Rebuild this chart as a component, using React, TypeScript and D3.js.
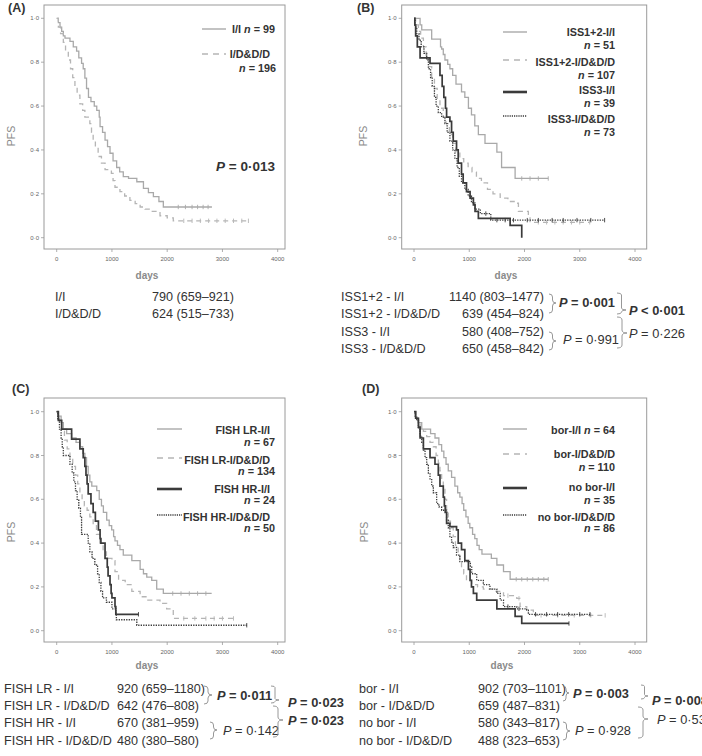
import React from 'react';
import * as d3 from 'd3';

// ---------- axis data ----------
const xTicks = [0, 1000, 2000, 3000, 4000];
const yTicks = [0, 0.2, 0.4, 0.6, 0.8, 1.0];
const yTickLabels = ['0·0', '0·2', '0·4', '0·6', '0·8', '1·0'];

// ---------- Panel A ----------
const aII: number[][] = [[0,1],[30,0.98],[60,0.96],[90,0.94],[120,0.92],[150,0.91],[240,0.895],[300,0.87],[360,0.85],[400,0.82],[450,0.795],[480,0.77],[510,0.727],[540,0.68],[575,0.64],[620,0.62],[680,0.6],[725,0.58],[770,0.55],[785,0.506],[830,0.48],[875,0.445],[920,0.415],[965,0.385],[1020,0.35],[1085,0.32],[1140,0.3],[1205,0.278],[1300,0.27],[1450,0.255],[1570,0.225],[1660,0.205],[1750,0.187],[1850,0.165],[1930,0.14]];
const aIIEnd = 2810;
const aIICens = [2200, 2330, 2450, 2550, 2650, 2740];
const aID: number[][] = [[0,1],[30,0.96],[70,0.93],[120,0.89],[160,0.85],[210,0.81],[250,0.77],[290,0.73],[330,0.69],[370,0.65],[420,0.61],[470,0.58],[510,0.55],[600,0.52],[630,0.48],[660,0.445],[700,0.41],[750,0.37],[810,0.34],[875,0.31],[990,0.293],[1020,0.26],[1055,0.23],[1145,0.21],[1230,0.19],[1325,0.17],[1420,0.155],[1510,0.14],[1600,0.13],[1690,0.12],[1870,0.1],[2000,0.09],[2110,0.077]];
const aIDEnd = 3470;
const aIDCens = [2300, 2450, 2600, 2750, 2900, 3050, 3200, 3350, 3470];

// ---------- Panel B ----------
const bII12: number[][] = [[0,1],[110,0.97],[140,0.947],[320,0.905],[480,0.87],[500,0.86],[530,0.835],[560,0.81],[610,0.79],[650,0.77],[700,0.74],[760,0.7],[860,0.665],[920,0.64],[985,0.59],[1040,0.56],[1100,0.51],[1165,0.47],[1285,0.43],[1500,0.39],[1585,0.32],[1830,0.27]];
const bII12End = 2430;
const bII12Cens = [1950, 2100, 2250, 2430];
const bID12: number[][] = [[0,1],[30,0.97],[80,0.94],[120,0.91],[170,0.87],[220,0.83],[270,0.78],[320,0.73],[370,0.68],[420,0.63],[470,0.59],[530,0.55],[580,0.52],[640,0.47],[700,0.43],[760,0.39],[830,0.36],[900,0.34],[980,0.32],[1050,0.3],[1130,0.27],[1220,0.25],[1330,0.22],[1430,0.2],[1560,0.18],[1700,0.165],[1860,0.157],[1890,0.12],[2070,0.1],[2100,0.07]];
const bID12End = 3180;
const bID12Cens = [2250, 2400, 2550, 2700, 2850, 3000, 3180];
const bII3: number[][] = [[0,1],[15,0.97],[30,0.92],[60,0.87],[110,0.82],[290,0.795],[470,0.74],[510,0.69],[540,0.64],[570,0.59],[590,0.55],[650,0.53],[680,0.48],[710,0.44],[770,0.4],[800,0.34],[860,0.29],[890,0.25],[950,0.21],[1015,0.18],[1075,0.15],[1105,0.12],[1165,0.088],[1740,0.056],[1950,0]];
const bII3End = 1950;
const bII3Cens: number[] = [];
const bID3: number[][] = [[0,1],[20,0.96],[50,0.93],[90,0.9],[130,0.87],[180,0.84],[230,0.81],[260,0.77],[300,0.73],[330,0.69],[370,0.64],[400,0.6],[440,0.57],[500,0.55],[560,0.52],[600,0.48],[650,0.44],[700,0.4],[740,0.36],[780,0.32],[820,0.28],[860,0.25],[920,0.22],[980,0.19],[1040,0.16],[1100,0.13],[1200,0.11],[1390,0.08]];
const bID3End = 3450;
const bID3Cens = [1300, 1500, 1650, 1800, 2050, 2250, 2500, 2700, 2950, 3200, 3450];

// ---------- Panel C ----------
const cLRII: number[][] = [[0,1],[20,0.98],[80,0.95],[120,0.92],[180,0.9],[270,0.88],[350,0.86],[420,0.84],[470,0.81],[510,0.79],[540,0.75],[570,0.71],[600,0.68],[635,0.66],[725,0.64],[770,0.6],[810,0.57],[845,0.54],[905,0.505],[950,0.48],[995,0.46],[1030,0.43],[1055,0.41],[1100,0.39],[1145,0.37],[1205,0.345],[1360,0.32],[1510,0.28],[1570,0.26],[1630,0.245],[1720,0.23],[1810,0.19],[1930,0.17]];
const cLRIIEnd = 2805;
const cLRIICens = [2100, 2250, 2400, 2550, 2700];
const cLRID: number[][] = [[0,1],[20,0.97],[50,0.94],[90,0.91],[140,0.87],[190,0.83],[240,0.79],[290,0.75],[340,0.71],[380,0.67],[420,0.63],[460,0.6],[500,0.57],[550,0.55],[600,0.52],[660,0.48],[720,0.44],[780,0.4],[840,0.36],[900,0.33],[1000,0.32],[1055,0.27],[1120,0.23],[1240,0.21],[1360,0.18],[1510,0.155],[1650,0.14],[1870,0.125],[1990,0.1],[2110,0.056]];
const cLRIDEnd = 3200;
const cLRIDCens = [2300, 2500, 2700, 2850, 3000, 3200];
const cHRII: number[][] = [[0,1],[30,0.96],[90,0.92],[270,0.875],[420,0.83],[480,0.79],[510,0.75],[530,0.71],[550,0.67],[570,0.625],[620,0.58],[660,0.54],[700,0.5],[755,0.46],[785,0.42],[800,0.4],[875,0.33],[915,0.29],[930,0.25],[965,0.21],[985,0.17],[1000,0.15],[1055,0.11],[1070,0.075]];
const cHRIIEnd = 1480;
const cHRIICens = [1480];
const cHRID: number[][] = [[0,1],[20,0.96],[50,0.92],[80,0.88],[100,0.84],[120,0.8],[240,0.76],[280,0.72],[310,0.68],[340,0.64],[370,0.6],[400,0.56],[430,0.52],[450,0.44],[570,0.4],[600,0.36],[640,0.33],[690,0.3],[740,0.26],[770,0.22],[800,0.18],[830,0.15],[900,0.13],[1000,0.1],[1070,0.08],[1080,0.05],[1450,0.025]];
const cHRIDEnd = 3440;
const cHRIDCens = [3440];

// ---------- Panel D ----------
const dBII: number[][] = [[0,1],[30,0.97],[80,0.95],[140,0.92],[300,0.9],[380,0.88],[450,0.85],[500,0.82],[540,0.79],[580,0.76],[620,0.73],[680,0.7],[740,0.66],[790,0.63],[830,0.61],[870,0.58],[900,0.55],[940,0.52],[980,0.49],[1010,0.47],[1060,0.44],[1100,0.42],[1140,0.39],[1180,0.37],[1230,0.35],[1400,0.33],[1500,0.3],[1620,0.27],[1740,0.235]];
const dBIIEnd = 2430;
const dBIICens = [1850, 1950, 2050, 2150, 2250, 2350, 2430];
const dBID: number[][] = [[0,1],[30,0.97],[70,0.95],[110,0.93],[170,0.91],[230,0.886],[290,0.86],[350,0.84],[400,0.8],[440,0.765],[470,0.73],[500,0.69],[530,0.65],[560,0.6],[590,0.55],[620,0.5],[660,0.47],[710,0.43],[750,0.39],[800,0.35],[830,0.32],[860,0.29],[900,0.26],[950,0.23],[1045,0.21],[1150,0.2],[1255,0.19],[1435,0.18],[1620,0.16],[1860,0.148],[1920,0.11],[2040,0.094],[2160,0.07]];
const dBIDEnd = 3460;
const dBIDCens = [1700, 1900, 2300, 2600, 2900, 3200, 3460];
const dNII: number[][] = [[0,1],[30,0.97],[80,0.93],[110,0.88],[170,0.83],[290,0.79],[380,0.76],[440,0.71],[470,0.66],[530,0.61],[550,0.57],[565,0.54],[590,0.49],[650,0.475],[770,0.46],[800,0.4],[860,0.37],[920,0.32],[985,0.28],[1015,0.23],[1040,0.2],[1075,0.17],[1135,0.14],[1500,0.1],[1830,0.065],[1950,0.033]];
const dNIIEnd = 2805;
const dNIICens = [2805];
const dNID: number[][] = [[0,1],[20,0.98],[50,0.96],[80,0.92],[110,0.89],[140,0.86],[170,0.825],[200,0.79],[230,0.76],[260,0.72],[290,0.69],[320,0.66],[350,0.63],[410,0.58],[450,0.565],[500,0.55],[590,0.505],[620,0.47],[650,0.43],[680,0.405],[710,0.38],[770,0.345],[830,0.315],[1020,0.29],[1045,0.26],[1135,0.23],[1255,0.21],[1375,0.19],[1500,0.17],[1560,0.14],[1620,0.11],[1860,0.1],[2040,0.094],[2070,0.075]];
const dNIDEnd = 3185;
const dNIDCens = [1700, 1900, 2200, 2400, 2600, 2800, 3000, 3185];

// ---------- legends ----------
const legA = ['I/I', 'I/D&D/D'];
const nA = [99, 196];
const legB = ['ISS1+2-I/I', 'ISS1+2-I/D&D/D', 'ISS3-I/I', 'ISS3-I/D&D/D'];
const nB = [51, 107, 39, 73];
const legC = ['FISH LR-I/I', 'FISH LR-I/D&D/D', 'FISH HR-I/I', 'FISH HR-I/D&D/D'];
const nC = [67, 134, 24, 50];
const legD = ['bor-I/I', 'bor-I/D&D/D', 'no bor-I/I', 'no bor-I/D&D/D'];
const nD = [64, 110, 35, 86];

// ---------- tables ----------
const tabALab = ['I/I', 'I/D&D/D'];
const tabAVal = ['790 (659–921)', '624 (515–733)'];
const tabBLab = ['ISS1+2 - I/I', 'ISS1+2 - I/D&D/D', 'ISS3 - I/I', 'ISS3 - I/D&D/D'];
const tabBVal = ['1140 (803–1477)', '639 (454–824)', '580 (408–752)', '650 (458–842)'];
const tabCLab = ['FISH LR - I/I', 'FISH LR - I/D&D/D', 'FISH HR - I/I', 'FISH HR - I/D&D/D'];
const tabCVal = ['920 (659–1180)', '642 (476–808)', '670 (381–959)', '480 (380–580)'];
const tabDLab = ['bor - I/I', 'bor - I/D&D/D', 'no bor - I/I', 'no bor - I/D&D/D'];
const tabDVal = ['902 (703–1101)', '659 (487–831)', '580 (343–817)', '488 (323–653)'];

const pA = 'P = 0·013';
const pB = ['P = 0·001', 'P < 0·001', 'P = 0·991', 'P = 0·226'];
const pC = ['P = 0·011', 'P = 0·023', 'P = 0·023', 'P = 0·142'];
const pD = ['P = 0·003', 'P = 0·008', 'P = 0·53', 'P = 0·928'];

// ---------- styles ----------
const FONT = 'Liberation Sans, Arial, Helvetica, sans-serif';
const TXT = '#333';
const styles: Record<string, any> = {
  lightSolid: { stroke: '#a9a9a9', strokeWidth: 1.3, dash: undefined, legW: 1.4 },
  lightDash: { stroke: '#b5b5b5', strokeWidth: 1.3, dash: '5,4', legW: 1.4 },
  darkSolid: { stroke: '#3a3a3a', strokeWidth: 1.7, dash: undefined, legW: 2.6 },
  darkDot: { stroke: '#3a3a3a', strokeWidth: 1.3, dash: '1.3,1.2', legW: 1.5 },
};

function survAt(pts: number[][], t: number) {
  let s = 1;
  for (const [tt, ss] of pts) if (tt <= t) s = ss;
  return s;
}

function brace(x: number, y1: number, y2: number, yt: number, w: number) {
  const m = x + w * 0.5;
  const r = Math.max(1, Math.min(3, (yt - y1) / 2, (y2 - yt) / 2));
  return `M${x},${y1} Q${m},${y1} ${m},${y1 + r} L${m},${yt - r} Q${m},${yt} ${x + w},${yt} Q${m},${yt} ${m},${yt + r} L${m},${y2 - r} Q${m},${y2} ${x},${y2}`;
}

type Curve = { pts: number[][]; end: number; cens: number[]; style: string };

type PanelCfg = {
  label: string; lx: number; ly: number;
  box: [number, number, number, number];
  xr: [number, number]; yr: [number, number];
  curves: Curve[];
  pfsX: number; pfsY: number; daysX: number; daysY: number;
};

const panels: PanelCfg[] = [
  {
    label: '(A)', lx: 8, ly: 12, box: [44, 5, 285, 249], xr: [56.7, 277.7], yr: [237.7, 18.3],
    curves: [
      { pts: aII, end: aIIEnd, cens: aIICens, style: 'lightSolid' },
      { pts: aID, end: aIDEnd, cens: aIDCens, style: 'lightDash' },
    ],
    pfsX: 12, pfsY: 136, daysX: 147, daysY: 279,
  },
  {
    label: '(B)', lx: 357, ly: 12, box: [401.7, 5, 646.7, 249], xr: [414, 635], yr: [237.7, 18.3],
    curves: [
      { pts: bII12, end: bII12End, cens: bII12Cens, style: 'lightSolid' },
      { pts: bID12, end: bID12End, cens: bID12Cens, style: 'lightDash' },
      { pts: bII3, end: bII3End, cens: bII3Cens, style: 'darkSolid' },
      { pts: bID3, end: bID3End, cens: bID3Cens, style: 'darkDot' },
    ],
    pfsX: 364, pfsY: 136, daysX: 506, daysY: 279,
  },
  {
    label: '(C)', lx: 12, ly: 393, box: [44, 398, 285, 642], xr: [56.7, 277.7], yr: [630.7, 411.7],
    curves: [
      { pts: cLRII, end: cLRIIEnd, cens: cLRIICens, style: 'lightSolid' },
      { pts: cLRID, end: cLRIDEnd, cens: cLRIDCens, style: 'lightDash' },
      { pts: cHRII, end: cHRIIEnd, cens: cHRIICens, style: 'darkSolid' },
      { pts: cHRID, end: cHRIDEnd, cens: cHRIDCens, style: 'darkDot' },
    ],
    pfsX: 12, pfsY: 532, daysX: 147, daysY: 669,
  },
  {
    label: '(D)', lx: 362, ly: 393, box: [401.7, 398, 646.7, 642], xr: [414, 635], yr: [630.7, 411.7],
    curves: [
      { pts: dBII, end: dBIIEnd, cens: dBIICens, style: 'lightSolid' },
      { pts: dBID, end: dBIDEnd, cens: dBIDCens, style: 'lightDash' },
      { pts: dNII, end: dNIIEnd, cens: dNIICens, style: 'darkSolid' },
      { pts: dNID, end: dNIDEnd, cens: dNIDCens, style: 'darkDot' },
    ],
    pfsX: 365, pfsY: 532, daysX: 502, daysY: 669,
  },
];

const legStyles = ['lightSolid', 'lightDash', 'darkSolid', 'darkDot'];

function Panel({ p }: { p: PanelCfg }) {
  const xs = d3.scaleLinear().domain([0, 4000]).range(p.xr);
  const ys = d3.scaleLinear().domain([0, 1]).range(p.yr);
  const line = d3.line<number[]>().x(d => xs(d[0])).y(d => ys(d[1])).curve(d3.curveStepAfter);
  const [bx0, by0, bx1, by1] = p.box;
  return (
    <g>
      <text x={p.lx} y={p.ly} fontSize={12.5} fontWeight="bold" fill={TXT} fontFamily={FONT}>{p.label}</text>
      <rect x={bx0} y={by0} width={bx1 - bx0} height={by1 - by0} fill="none" stroke="#9a9a9a" strokeWidth={1} />
      {yTicks.map((t, i) => (
        <g key={'y' + i}>
          <line x1={bx0 - 3} x2={bx0} y1={ys(t)} y2={ys(t)} stroke="#9a9a9a" strokeWidth={0.8} />
          <text x={bx0 - 5} y={ys(t) + 2} fontSize={6} textAnchor="end" fill="#666" fontFamily={FONT}>{yTickLabels[i]}</text>
        </g>
      ))}
      {xTicks.map((t, i) => (
        <g key={'x' + i}>
          <line x1={xs(t)} x2={xs(t)} y1={by1} y2={by1 + 3} stroke="#9a9a9a" strokeWidth={0.8} />
          <text x={xs(t)} y={by1 + 12} fontSize={6} textAnchor="middle" fill="#666" fontFamily={FONT}>{t}</text>
        </g>
      ))}
      <text transform={`translate(${p.pfsX},${p.pfsY}) rotate(-90)`} textAnchor="middle" dominantBaseline="middle" fontSize={10.5} fill="#8a8a8a" fontFamily={FONT}>PFS</text>
      <text x={p.daysX} y={p.daysY} textAnchor="middle" fontSize={10} fontWeight="bold" fill="#8a8a8a" fontFamily={FONT}>days</text>
      {p.curves.map((c, i) => {
        const st = styles[c.style];
        const last = c.pts[c.pts.length - 1][1];
        const data = [...c.pts, [c.end, last]];
        return (
          <g key={'c' + i}>
            <path d={line(data) || ''} fill="none" stroke={st.stroke} strokeWidth={st.strokeWidth} strokeDasharray={st.dash} />
            {c.cens.map((t, j) => (
              <line key={j} x1={xs(t)} x2={xs(t)} y1={ys(survAt(c.pts, t)) - 2.2} y2={ys(survAt(c.pts, t)) + 2.2} stroke={st.stroke} strokeWidth={0.9} />
            ))}
          </g>
        );
      })}
    </g>
  );
}

function Leg({ x1, x2, y, style }: { x1: number; x2: number; y: number; style: string }) {
  const st = styles[style];
  return <line x1={x1} x2={x2} y1={y} y2={y} stroke={st.stroke} strokeWidth={st.legW} strokeDasharray={style === 'lightDash' ? '6,5' : style === 'darkDot' ? '1.2,1' : undefined} />;
}

const LEGFS = 10.8;

function NText({ x, y, n, pre }: { x: number; y: number; n: number; pre?: string }) {
  return (
    <text x={x} y={y} textAnchor="end" fontSize={LEGFS} fontWeight="bold" fill={TXT} fontFamily={FONT}>
      {pre ? pre + ' ' : ''}<tspan fontStyle="italic">n</tspan>{' = ' + n}
    </text>
  );
}

function LText({ x, y, t }: { x: number; y: number; t: string }) {
  return <text x={x} y={y} textAnchor="end" fontSize={LEGFS} fontWeight="bold" fill={TXT} fontFamily={FONT}>{t}</text>;
}

function PText({ x, y, t, bold, size = 12.8 }: { x: number; y: number; t: string; bold?: boolean; size?: number }) {
  const rest = t.slice(1);
  return (
    <text x={x} y={y} fontSize={size} fontWeight={bold ? 'bold' : 'normal'} fill={TXT} fontFamily={FONT}>
      <tspan fontStyle="italic">{t[0]}</tspan>{rest}
    </text>
  );
}

function Table({ labs, vals, lx, vx, ys, anchorEnd }: { labs: string[]; vals: string[]; lx: number; vx: number; ys: number[]; anchorEnd?: boolean }) {
  return (
    <g fontFamily={FONT} fontSize={12.6} fill={TXT}>
      {labs.map((l, i) => (
        <g key={i}>
          <text x={lx} y={ys[i]}>{l}</text>
          <text x={vx} y={ys[i]} textAnchor={anchorEnd ? 'end' : 'start'}>{vals[i]}</text>
        </g>
      ))}
    </g>
  );
}

const BR = '#8c8c8c';

export default function App() {
  const rowsAB = [300.5, 317.5, 335.5, 353];
  const rowsCD = [692.5, 709.5, 726.5, 744.5];
  return (
    <svg width={702} height={756} viewBox="0 0 702 756" style={{ position: 'absolute', left: 0, top: 0, background: '#fff' }}>
      <rect x={0} y={0} width={702} height={756} fill="#fff" />
      {panels.map((p, i) => <Panel key={i} p={p} />)}

      {/* Legend A */}
      <Leg x1={202} x2={226} y={29} style={legStyles[0]} />
      <NText x={275} y={33} n={nA[0]} pre={legA[0]} />
      <Leg x1={202} x2={226} y={54} style={legStyles[1]} />
      <LText x={270} y={58} t={legA[1]} />
      <NText x={276} y={72} n={nA[1]} />
      <PText x={216} y={171} t={pA} bold size={13.5} />

      {/* Legend B */}
      {[32, 60, 92, 116].map((ly, i) => <Leg key={'lb' + i} x1={503} x2={527} y={ly} style={legStyles[i]} />)}
      {[[36, 49], [66, 79], [94, 107], [123, 136]].map((r, i) => (
        <g key={'tb' + i}>
          <LText x={615} y={r[0]} t={legB[i]} />
          <NText x={615} y={r[1]} n={nB[i]} />
        </g>
      ))}

      {/* Legend C */}
      {[429, 458, 489, 515].map((ly, i) => <Leg key={'lc' + i} x1={157} x2={182} y={ly} style={legStyles[i]} />)}
      {[[434, 446], [464, 475], [493, 503.5], [521, 532]].map((r, i) => (
        <g key={'tc' + i}>
          <LText x={270} y={r[0]} t={legC[i]} />
          <NText x={275} y={r[1]} n={nC[i]} />
        </g>
      ))}

      {/* Legend D */}
      {[429, 454, 488, 515].map((ly, i) => <Leg key={'ld' + i} x1={503} x2={527} y={ly} style={legStyles[i]} />)}
      <NText x={615} y={434} n={nD[0]} pre={legD[0]} />
      {[[458, 471], [491, 503.5], [521, 532]].map((r, i) => (
        <g key={'td' + i}>
          <LText x={615} y={r[0]} t={legD[i + 1]} />
          <NText x={615} y={r[1]} n={nD[i + 1]} />
        </g>
      ))}

      {/* Tables */}
      <Table labs={tabALab} vals={tabAVal} lx={55} vx={152} ys={rowsAB} />
      <Table labs={tabBLab} vals={tabBVal} lx={341} vx={544} ys={rowsAB} anchorEnd />
      <Table labs={tabCLab} vals={tabCVal} lx={4} vx={117} ys={rowsCD} />
      <Table labs={tabDLab} vals={tabDVal} lx={359} vx={478} ys={rowsCD} />

      {/* P values B */}
      <PText x={559} y={307} t={pB[0]} bold />
      <PText x={629} y={315} t={pB[1]} bold />
      <PText x={563} y={344} t={pB[2]} />
      <PText x={629} y={338} t={pB[3]} />
      <g fill="none" stroke={BR} strokeWidth={0.9}>
        <path d={brace(549, 294, 313, 303, 7)} />
        <path d={brace(617, 293, 314, 310, 9)} />
        <path d={brace(617, 317, 348, 333, 10)} />
        <path d={brace(549, 332, 350, 341, 7)} />
      </g>

      {/* P values C */}
      <PText x={217} y={699.5} t={pC[0]} bold />
      <PText x={288} y={706.5} t={pC[1]} bold />
      <PText x={288} y={724.5} t={pC[2]} bold />
      <PText x={223} y={734.5} t={pC[3]} />
      <g fill="none" stroke={BR} strokeWidth={0.9}>
        <path d={brace(204, 686, 704, 695, 8)} />
        <path d={brace(271, 686, 703, 700, 8)} />
        <path d={brace(273, 706, 737, 720, 10)} />
        <path d={brace(210, 722, 739, 730, 7)} />
      </g>

      {/* P values D */}
      <PText x={573} y={697.5} t={pD[0]} bold />
      <PText x={652} y={705} t={pD[1]} bold />
      <PText x={657} y={724} t={pD[2]} />
      <PText x={575} y={734.5} t={pD[3]} />
      <g fill="none" stroke={BR} strokeWidth={0.9}>
        <path d={brace(563, 686, 701, 693, 6)} />
        <path d={brace(641, 685, 699, 696, 7)} />
        <path d={brace(638, 707, 738, 719, 10)} />
        <path d={brace(563, 722, 740, 731, 7)} />
      </g>
    </svg>
  );
}
